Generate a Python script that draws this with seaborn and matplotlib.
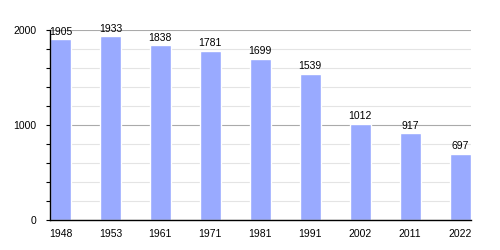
import matplotlib
matplotlib.use("Agg")
import matplotlib.pyplot as plt
import seaborn as sns
import pandas as pd
from matplotlib.ticker import MultipleLocator

years = ["1948", "1953", "1961", "1971", "1981", "1991", "2002", "2011", "2022"]
population = [1905, 1933, 1838, 1781, 1699, 1539, 1012, 917, 697]

df = pd.DataFrame({"year": years, "pop": population})

sns.set_style("white")
plt.rcParams["font.family"] = ["Liberation Sans", "DejaVu Sans"]
plt.rcParams["text.color"] = "black"
plt.rcParams["xtick.color"] = "black"
plt.rcParams["ytick.color"] = "black"

fig = plt.figure(figsize=(5, 2.5), dpi=100)
ax = fig.add_axes([0.1, 0.12, 0.842, 0.76])

sns.barplot(data=df, x="year", y="pop", color="#99aaff", saturation=1,
            width=0.42, ax=ax, zorder=3)

ax.set_ylim(0, 2000)
ax.set_xlim(-0.21, 8.22)
ax.yaxis.set_major_locator(MultipleLocator(1000))
ax.yaxis.set_minor_locator(MultipleLocator(200))
ax.grid(which="minor", axis="y", color="#e4e4e4", linewidth=0.8, zorder=0)
ax.grid(which="major", axis="y", color="#aaaaaa", linewidth=0.8, zorder=0)
ax.set_axisbelow(True)

for s in ["top", "right"]:
    ax.spines[s].set_visible(False)
for s in ["left", "bottom"]:
    ax.spines[s].set_color("black")
    ax.spines[s].set_linewidth(1)
    ax.spines[s].set_zorder(4)

ax.tick_params(axis="y", which="both", left=True, length=3, width=0.8,
               color="black", labelcolor="black", labelsize=7.5, pad=7)
ax.tick_params(axis="x", bottom=False, labelcolor="black", labelsize=7.5, pad=3)
ax.set_xlabel("")
ax.set_ylabel("")

for i, v in enumerate(population):
    ax.text(i, v + 25, str(v), ha="center", va="bottom", fontsize=7.5,
            color="black", clip_on=False, zorder=5)

fig.savefig("out.png", dpi=100)
